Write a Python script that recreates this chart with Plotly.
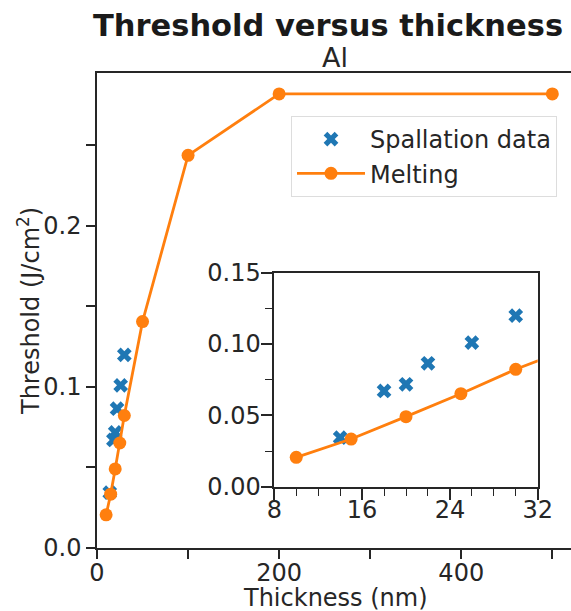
import plotly.graph_objects as go

# Data
melt_thickness = [10, 15, 20, 25, 30, 50, 100, 200, 500]
melt_threshold = [0.0206, 0.0334, 0.0491, 0.0652, 0.0823, 0.1406, 0.2439, 0.2820, 0.2820]
spall_thickness = [14, 18, 20, 22, 26, 30]
spall_threshold = [0.0344, 0.0671, 0.0718, 0.0865, 0.1010, 0.1199]
spall_error = [0.002, 0.002, 0.002, 0.002, 0.002, 0.002]

BLUE = "#1f77b4"
ORANGE = "#ff7f0e"
INK = "#262626"
FONT = "DejaVu Sans"
FS = 24

W, H = 571, 611
ML, MR, MT, MB = 97, 0, 73, 63
plot_w = W - ML - MR
plot_h = H - MT - MB

def px_x(p):
    return (p - ML) / plot_w

def px_y(p):
    return (H - MB - p) / plot_h

fig = go.Figure()

def add_series(xa, ya, show):
    fig.add_trace(go.Scatter(
        x=spall_thickness, y=spall_threshold, mode="markers", name="Spallation data",
        marker=dict(symbol="x", size=13, color=BLUE, line=dict(width=0)),
        error_y=dict(type="data", array=spall_error, color=BLUE, thickness=2, width=0),
        xaxis=xa, yaxis=ya, showlegend=show, legendgroup="s"))
    fig.add_trace(go.Scatter(
        x=melt_thickness, y=melt_threshold, mode="lines+markers", name="Melting",
        marker=dict(symbol="circle", size=13, color=ORANGE),
        line=dict(color=ORANGE, width=2.8),
        xaxis=xa, yaxis=ya, showlegend=show, legendgroup="m"))

add_series("x", "y", True)
add_series("x2", "y2", False)

tickfont = dict(family=FONT, size=FS, color=INK)
common = dict(showgrid=False, zeroline=False, showline=True, linecolor=INK, linewidth=1.5,
              mirror=True, ticks="outside", tickwidth=1.5, tickcolor=INK, tickfont=tickfont,
              automargin=False)

fig.update_layout(
    width=W, height=H,
    margin=dict(l=ML, r=MR, t=MT, b=MB, autoexpand=False),
    paper_bgcolor="white", plot_bgcolor="white",
    font=dict(family=FONT, color=INK),
    showlegend=True,
    legend=dict(x=px_x(291), y=px_y(116), xanchor="left", yanchor="top",
                bgcolor="white", bordercolor="#dddddd", borderwidth=1,
                font=dict(family=FONT, size=FS, color=INK),
                itemwidth=68, tracegroupgap=0, traceorder="grouped"),
    xaxis=dict(range=[0, 520.5], tickvals=[0, 200, 400], ticklen=9, ticklabelstandoff=-7,
               minor=dict(tickvals=[100, 300, 500], ticks="outside", ticklen=9, tickwidth=1.5, tickcolor=INK),
               **common),
    yaxis=dict(range=[0, 0.295], tickvals=[0, 0.1, 0.2], tickformat=".1f", ticklen=9,
               minor=dict(tickvals=[0.05, 0.15, 0.25], ticks="outside", ticklen=9, tickwidth=1.5, tickcolor=INK),
               **common),
    xaxis2=dict(domain=[px_x(274.3), px_x(537.7)], anchor="y2", range=[8, 32], tickvals=[8, 16, 24, 32],
                ticklen=12, ticklabelstandoff=-11,
                minor=dict(dtick=2, tick0=8, ticks="outside", ticklen=8, tickwidth=1.2, tickcolor=INK),
                **common),
    yaxis2=dict(domain=[px_y(486.7), px_y(272.7)], anchor="x2", range=[0, 0.15],
                tickvals=[0, 0.05, 0.10, 0.15], tickformat=".2f", ticklen=12, ticklabelstandoff=-5,
                minor=dict(tickvals=[0.025, 0.075, 0.125], ticks="outside", ticklen=8, tickwidth=1.2, tickcolor=INK),
                **common),
    annotations=[
        dict(text="<b>Threshold versus thickness</b>", x=px_x(328), y=px_y(25),
             xref="paper", yref="paper", xanchor="center", yanchor="middle",
             showarrow=False, font=dict(family=FONT, size=30.5, color="#1a1a1a")),
        dict(text="Al", x=px_x(335), y=px_y(58), xref="paper", yref="paper",
             xanchor="center", yanchor="middle",
             showarrow=False, font=dict(family=FONT, size=27, color=INK)),
        dict(text="Thickness (nm)", x=px_x(335), y=px_y(598), xref="paper", yref="paper",
             xanchor="center", yanchor="middle",
             showarrow=False, font=dict(family=FONT, size=FS, color=INK)),
        dict(text="Threshold (J/cm<sup>2</sup>)", x=px_x(29), y=px_y(311), xref="paper", yref="paper",
             xanchor="center", yanchor="middle", textangle=-90,
             showarrow=False, font=dict(family=FONT, size=FS, color=INK)),
    ],
)

fig.write_html("out.html", config={"displayModeBar": False},
               post_script="document.body.style.margin='0';document.body.style.overflow='hidden';")
